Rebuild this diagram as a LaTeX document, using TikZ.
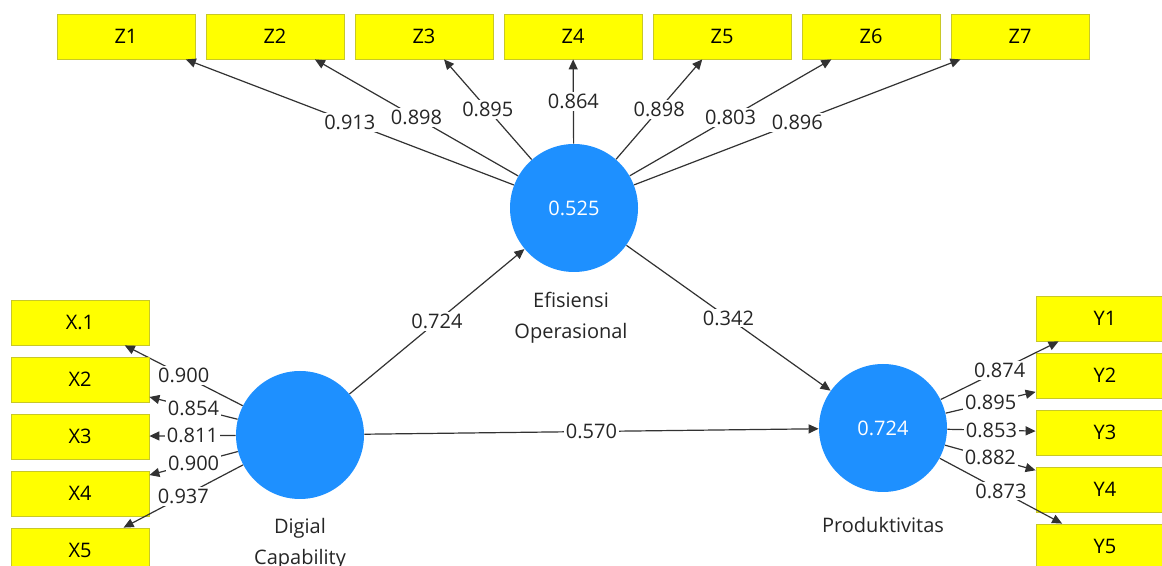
\documentclass[tikz,border=0pt]{standalone}
\usepackage{fontspec}
\setmainfont{Open Sans}
\usepackage{xcolor}
\usetikzlibrary{arrows.meta,positioning}
\definecolor{plsblue}{RGB}{30,144,255}
\definecolor{plsyellow}{RGB}{255,255,0}
\definecolor{plsborder}{RGB}{200,200,40}
\definecolor{plsline}{RGB}{50,50,50}
\tikzset{
    indicator/.style={draw=plsborder, rectangle, fill=plsyellow, minimum width=69pt, minimum height=22.5pt, text centered, inner sep=0pt},
    construct/.style={circle, fill=plsblue, minimum size=64pt, inner sep=0pt, text=white},
    arrow/.style={-{Triangle[length=5pt, width=4.5pt]}, line width=0.6pt, plsline},
    loading/.style={fill=white, inner sep=1pt, text=black!85},
    caption/.style={align=center, text=black!85, font=\fontsize{10}{15.5}\selectfont}
}

\begin{document}
\begin{tikzpicture}[x=0.5pt, y=-0.5pt, font=\fontsize{10}{12}\selectfont]
    \clip (0,0) rectangle (1162,566);
    \fill[white] (0,0) rectangle (1162,566);

    % latent variables
    \node[construct] (eo) at (574,208) {0.525};
    \node[construct] (dc) at (300,435) {};
    \node[construct] (prod) at (883,428) {0.724};
    \node[caption] (eolabel) at (571,318) {Efisiensi\\Operasional};
    \node[caption] (dclabel) at (300,544) {Digial\\Capability};
    \node[caption] (prodlabel) at (883,525) {Produktivitas};

    % outer loadings
    \foreach \i/\val in {1/0.913, 2/0.898, 3/0.895, 4/0.864, 5/0.898, 6/0.803, 7/0.896} {
        \node[indicator] (z\i) at ({126+149*(\i-1)},36.5) {Z\i};
        \draw[arrow] (eo) -- (z\i) node[loading, midway] {\val};
    }
    \foreach \i/\name/\val in {1/X.1/0.900, 2/X2/0.854, 3/X3/0.811, 4/X4/0.900, 5/X5/0.937} {
        \node[indicator] (x\i) at (80,{322.5+57*(\i-1)}) {\name};
        \draw[arrow] (dc) -- (x\i) node[loading, midway] {\val};
    }
    \foreach \i/\val in {1/0.874, 2/0.895, 3/0.853, 4/0.882, 5/0.873} {
        \node[indicator] (y\i) at (1105,{318.5+57*(\i-1)}) {Y\i};
        \draw[arrow] (prod) -- (y\i) node[loading, midway] {\val};
    }

    % path coefficients
    \draw[arrow] (dc) -- (eo) node[loading, midway] {0.724};
    \draw[arrow] (eo) -- (prod) node[loading, midway] {0.342};
    \draw[arrow] (dc) -- (prod) node[loading, midway] {0.570};
\end{tikzpicture}
\end{document}
